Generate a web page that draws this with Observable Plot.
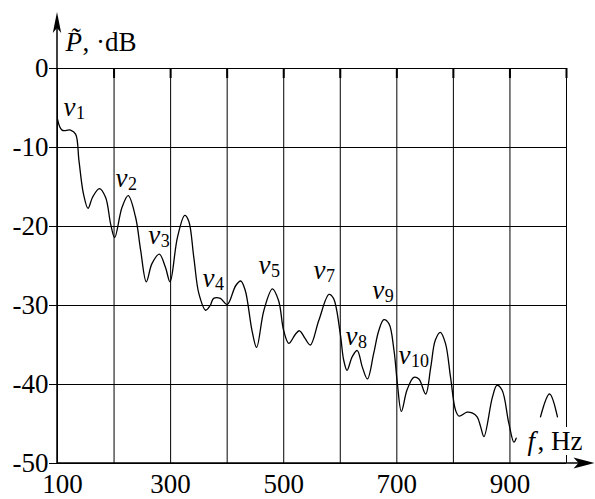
<!DOCTYPE html>
<html><head><meta charset="utf-8">
<script src="https://cdn.jsdelivr.net/npm/d3@7"></script>
<script src="https://cdn.jsdelivr.net/npm/@observablehq/plot@0.6"></script>
<style>
html,body{margin:0;padding:0;background:#fff}
svg{display:block}
svg text, svg g[aria-label] text{font-family:"Liberation Serif","Times New Roman",serif !important;}
</style>
</head><body><div id="chart"></div>
<script>
// spectrum curve (Hz, dB); NaN marks the part hidden behind the axis label
const freqHz = [100,108,123,132,138,146,154,162,174,185,194,201,214,225,238,247,257,267,280,291,299,312,325,332,341,350,362,370,376,388,400,415,424,432,444,452,465,480,491,500,509,521,528,538,547,562,580,588,600,606,612,621,630,639,648,659,668,677,686,695,701,708,718,730,739,751,760,768,777,786,795,804,810,824,833,842,848,854,869,877,886,898,907,911,935,954,970,984];
const levelDb = [-6.4,-7.8,-7.8,-8.3,-11.7,-15.9,-17.7,-16.3,-15.2,-16.3,-19.7,-21.4,-17.6,-16.1,-18.8,-23.0,-27.0,-24.7,-23.5,-25.2,-27.0,-21.4,-18.6,-19.3,-23.9,-28.5,-30.6,-30.0,-29.1,-29.1,-29.9,-27.5,-26.9,-28.1,-33.2,-35.3,-30.6,-27.9,-29.4,-33.2,-34.8,-33.6,-33.2,-34.2,-35.0,-31.9,-28.6,-29.1,-33.6,-36.9,-38.2,-36.5,-35.7,-37.8,-39.3,-36.1,-33.2,-31.8,-32.3,-35.7,-39.9,-43.4,-40.7,-39.1,-39.3,-41.2,-37.8,-34.4,-33.4,-34.8,-39.1,-43.3,-44.0,-43.5,-43.6,-44.1,-45.3,-46.6,-41.6,-40.1,-40.7,-44.9,-47.3,-46.8,NaN,-44.1,-41.2,-44.1];

// peak labels ν_n
const peakIndex = ["1","2","3","4","5","7","8","9","10"];
const peakLabelHz = [110.6,202.6,260.4,356.4,455.4,552.6,609.2,656.4,702.9];
const peakLabelDb = [-5.95,-15.06,-22.19,-27.68,-25.99,-26.62,-35.06,-29.15,-37.38];

// axes
const xGrid = [100,200,300,400,500,600,700,800,900,1000];
const xTickLabels = [300,500,700,900];
const xFirstLabel = [100];
const yTicks = [0,-10,-20,-30,-40,-50];

const curve = freqHz.map((f,i)=>({f, db: levelDb[i]}));
const peaks = peakIndex.map((n,i)=>({n, f: peakLabelHz[i], db: peakLabelDb[i]}));

const FONT = "Liberation Serif, Times New Roman, serif";
const FS = 27;
const T = {fontFamily: FONT, fontSize: FS};

const plot = Plot.plot({
  width: 595, height: 499,
  marginLeft: 57, marginRight: 29, marginTop: 68, marginBottom: 36,
  style: {fontFamily: FONT, fontSize: FS + "px", background: "#fff", color: "#000", overflow: "visible"},
  x: {domain: [100, 1000]},
  y: {domain: [-50, 0]},
  marks: [
    Plot.ruleX(xGrid, {stroke: "#000", strokeWidth: 1}),
    Plot.ruleY(yTicks, {stroke: "#000", strokeWidth: 1}),
    Plot.ruleX(xGrid.slice(1), {y1: 0, y2: -1.27, stroke: "#000", strokeWidth: 2}),
    Plot.axisY(yTicks, {...T, tickSize: 8, tickPadding: 1, label: null, tickFormat: d => String(d), stroke: "#000"}),
    Plot.axisX(xTickLabels, {...T, anchor: "bottom", tickSize: 0, tickPadding: 10, label: null, tickFormat: d => String(d)}),
    Plot.axisX(xFirstLabel, {...T, anchor: "bottom", tickSize: 0, tickPadding: 10, label: null, dx: 5, tickFormat: d => String(d)}),
    Plot.line(curve, {x: "f", y: "db", curve: "catmull-rom", stroke: "#000", strokeWidth: 1.3}),
    Plot.text(peaks, {...T, x: "f", y: "db", text: () => "v", fontStyle: "italic", textAnchor: "start", lineAnchor: "bottom"}),
    Plot.text(peaks, {...T, x: "f", y: "db", text: "n", fontSize: 18, dx: 12.5, dy: 3, textAnchor: "start", lineAnchor: "bottom"}),
    // y-axis title  P̃, ·dB
    Plot.text(["P\u0303"], {...T, frameAnchor: "top-left", dx: 8, dy: -17.3, textAnchor: "start", lineAnchor: "bottom", fontStyle: "italic"}),
    Plot.text([", ·dB"], {...T, frameAnchor: "top-left", dx: 25, dy: -17.3, textAnchor: "start", lineAnchor: "bottom"}),
    // x-axis title  f, Hz
    Plot.text(["f"], {...T, frameAnchor: "bottom-right", dx: -39, dy: -14, textAnchor: "start", lineAnchor: "bottom", fontStyle: "italic", stroke: "#fff", strokeWidth: 8, fill: "#000"}),
    Plot.text([", Hz"], {...T, frameAnchor: "bottom-right", dx: -29, dy: -14, textAnchor: "start", lineAnchor: "bottom", stroke: "#fff", strokeWidth: 10, fill: "#000"})
  ]
});

// axis lines with filled arrowheads, positioned through the plot's scales
const xs = plot.scale("x"), ys = plot.scale("y");
const sx = d3.scaleLinear(xs.domain, xs.range), sy = d3.scaleLinear(ys.domain, ys.range);
const svg = d3.select(plot);
const x0 = sx(100), yBot = sy(-50), yTop = sy(0);
const tipY = yTop - 56, tipX = 594.5;
const g = svg.append("g").attr("fill", "#000").attr("stroke", "#000");
g.append("line").attr("x1", x0).attr("y1", yBot).attr("x2", x0).attr("y2", tipY + 8).attr("stroke-width", 1.5);
g.append("line").attr("x1", x0).attr("y1", yBot).attr("x2", tipX - 8).attr("y2", yBot).attr("stroke-width", 1.5);
g.append("path").attr("stroke", "none")
  .attr("d", `M${x0},${tipY} L${x0 - 4.2},${tipY + 21} L${x0},${tipY + 16} L${x0 + 4.2},${tipY + 21} Z`);
g.append("path").attr("stroke", "none")
  .attr("d", `M${tipX},${yBot} L${tipX - 21},${yBot - 5.5} L${tipX - 16},${yBot} L${tipX - 21},${yBot + 5.5} Z`);

document.getElementById("chart").appendChild(plot);
</script>
</body></html>
